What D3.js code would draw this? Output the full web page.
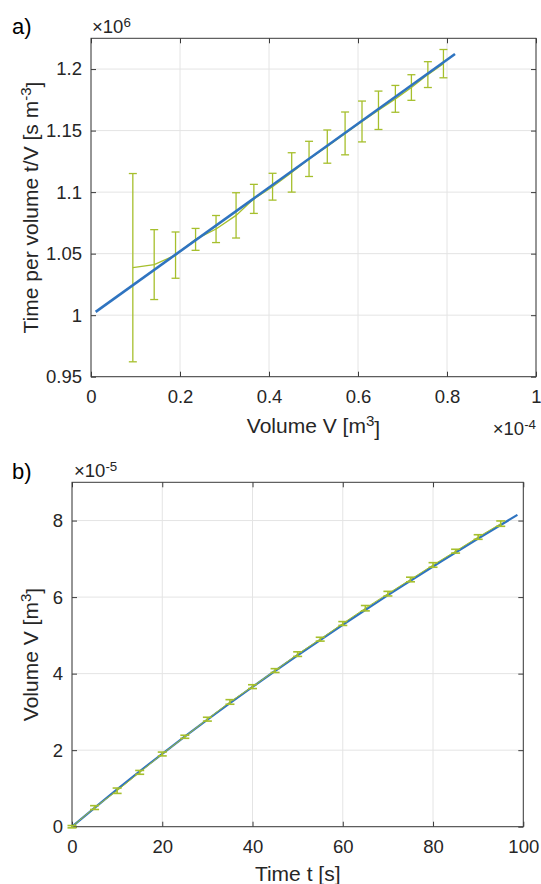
<!DOCTYPE html>
<html><head><meta charset="utf-8">
<script src="https://cdn.jsdelivr.net/npm/d3@7"></script>
<style>body{margin:0;background:#fff} text{font-family:"Liberation Sans",Arial,Helvetica,sans-serif}</style>
</head><body><svg id="c" width="541" height="884"></svg>
<script>
// ---- Panel a: t/V vs V ----
const aV   = [0.094,0.142,0.190,0.235,0.281,0.326,0.366,0.408,0.451,0.490,0.531,0.571,0.609,0.646,0.684,0.720,0.757,0.792]; // ×1e-4 m³
const aTV  = [1.0386,1.0411,1.0488,1.0616,1.0700,1.0811,1.0945,1.1044,1.1160,1.1270,1.1370,1.1477,1.1574,1.1665,1.1758,1.1850,1.1955,1.2044]; // ×1e6
const aErr = [0.0765,0.0284,0.0188,0.0089,0.0110,0.0184,0.0118,0.0109,0.0160,0.0143,0.0135,0.0174,0.0166,0.0156,0.0109,0.0104,0.0105,0.0115];
const aFitV  = [0.0105, 0.818];
const aFitTV = [1.0027, 1.2122];
const aXTicks = [0,0.2,0.4,0.6,0.8,1];
const aYTicks = [0.95,1,1.05,1.1,1.15,1.2];
const aXTickLabels = ["0","0.2","0.4","0.6","0.8","1"];
const aYTickLabels = ["0.95","1","1.05","1.1","1.15","1.2"];

// ---- Panel b: V vs t ----
const bT   = [0,5,10,15,20,25,30,35,40,45,50,55,60,65,70,75,80,85,90,95];
const bV   = [0,0.50,0.94,1.42,1.90,2.35,2.81,3.26,3.66,4.08,4.51,4.90,5.31,5.71,6.09,6.46,6.84,7.20,7.57,7.92]; // ×1e-5 m³
const bErr = [0.03,0.05,0.07,0.05,0.05,0.04,0.05,0.06,0.05,0.05,0.06,0.05,0.05,0.07,0.06,0.06,0.06,0.05,0.06,0.07];
const bFitT = [0,10,20,30,40,50,60,70,80,90,98.7];
const bFitV = [0,0.975,1.906,2.797,3.654,4.480,5.278,6.051,6.801,7.530,8.149];
const bXTicks = [0,20,40,60,80,100];
const bYTicks = [0,2,4,6,8];

const GREEN = "#a6bf2c", BLUE = "#2f74c0", AX = "#3a3a3a", TXT = "#262626", GRID = "#e4e4e4";
const FS_TICK = "18.5px", FS_LAB = "21px";
const svg = d3.select("#c");

function panel(o){
  const g = svg.append("g");
  const x = d3.scaleLinear().domain(o.xd).range([o.l,o.r]);
  const y = d3.scaleLinear().domain(o.yd).range([o.b,o.t]);
  g.append("g").selectAll("line").data(o.xt).join("line")
    .attr("x1",d=>x(d)).attr("x2",d=>x(d)).attr("y1",o.t).attr("y2",o.b)
    .attr("stroke",GRID).attr("stroke-width",1);
  g.append("g").selectAll("line").data(o.yt).join("line")
    .attr("y1",d=>y(d)).attr("y2",d=>y(d)).attr("x1",o.l).attr("x2",o.r)
    .attr("stroke",GRID).attr("stroke-width",1);
  const ax = [
    [d3.axisBottom(x).tickValues(o.xt).tickFormat((d,i)=>o.xl[i]).tickSize(-5).tickPadding(13.5), `translate(0,${o.b})`],
    [d3.axisLeft(y).tickValues(o.yt).tickFormat((d,i)=>o.yl[i]).tickSize(-5).tickPadding(9), `translate(${o.l},0)`],
    [d3.axisTop(x).tickValues(o.xt).tickFormat("").tickSize(-5), `translate(0,${o.t})`],
    [d3.axisRight(y).tickValues(o.yt).tickFormat("").tickSize(-5), `translate(${o.r},0)`]
  ];
  ax.forEach(([a,tr])=>{
    const s = g.append("g").attr("transform",tr).call(a);
    s.select(".domain").remove();
    s.selectAll("line").attr("stroke",AX);
    s.selectAll("text").attr("fill",TXT).style("font-size",FS_TICK).attr("font-family",null);
  });
  g.append("rect").attr("x",o.l).attr("y",o.t).attr("width",o.r-o.l).attr("height",o.b-o.t)
    .attr("fill","none").attr("stroke",AX).attr("stroke-width",1);
  return {g,x,y};
}

// text with a superscript part and optional trailing text
function sup(sel, base, s, tail){
  sel.append("tspan").text(base);
  sel.append("tspan").attr("dy","-0.45em").style("font-size","0.72em").text(s);
  if (tail) sel.append("tspan").attr("dy","0.45em").text(tail);
  return sel;
}

// ===== Panel a =====
{
  const o = {l:91,r:536,t:38.3,b:376.7,xd:[0,1],yd:[0.95,1.225],xt:aXTicks,yt:aYTicks,xl:aXTickLabels,yl:aYTickLabels};
  const {g,x,y} = panel(o);
  const eb = g.append("g").attr("stroke",GREEN).attr("stroke-width",1.3).attr("fill","none");
  aV.forEach((v,i)=>{
    const cx = x(v), y1 = y(aTV[i]-aErr[i]), y2 = y(aTV[i]+aErr[i]);
    eb.append("line").attr("x1",cx).attr("x2",cx).attr("y1",y1).attr("y2",y2);
    eb.append("line").attr("x1",cx-4).attr("x2",cx+4).attr("y1",y1).attr("y2",y1);
    eb.append("line").attr("x1",cx-4).attr("x2",cx+4).attr("y1",y2).attr("y2",y2);
  });
  g.append("path").datum(aV.map((v,i)=>[v,aTV[i]]))
    .attr("d",d3.line().x(d=>x(d[0])).y(d=>y(d[1])))
    .attr("fill","none").attr("stroke",GREEN).attr("stroke-width",1.3);
  g.append("path").datum(aFitV.map((v,i)=>[v,aFitTV[i]]))
    .attr("d",d3.line().x(d=>x(d[0])).y(d=>y(d[1])))
    .attr("fill","none").attr("stroke",BLUE).attr("stroke-width",2.6);

  svg.append("text").attr("x",12).attr("y",34).attr("fill","#000").style("font-size","22px").text("a)");
  sup(svg.append("text").attr("x",92).attr("y",33).attr("fill",TXT).style("font-size",FS_TICK),"×10","6");
  sup(svg.append("text").attr("x",536).attr("y",435).attr("text-anchor","end").attr("fill",TXT).style("font-size",FS_TICK),"×10","-4");
  sup(svg.append("text").attr("x",313.5).attr("y",433).attr("text-anchor","middle").attr("fill",TXT).style("font-size",FS_LAB),"Volume V [m","3","]");
  sup(svg.append("text").attr("transform","translate(38,207.5) rotate(-90)").attr("text-anchor","middle").attr("fill",TXT).style("font-size",FS_LAB),"Time per volume t/V [s m","-3","]");
}

// ===== Panel b =====
{
  const o = {l:72,r:523.3,t:482.3,b:826.7,xd:[0,100],yd:[0,9],xt:bXTicks,yt:bYTicks,xl:bXTicks.map(String),yl:bYTicks.map(String)};
  const {g,x,y} = panel(o);
  g.append("path").datum(bFitT.map((t,i)=>[t,bFitV[i]]))
    .attr("d",d3.line().curve(d3.curveNatural).x(d=>x(d[0])).y(d=>y(d[1])))
    .attr("fill","none").attr("stroke",BLUE).attr("stroke-width",2.2);
  g.append("path").datum(bT.map((t,i)=>[t,bV[i]]))
    .attr("d",d3.line().x(d=>x(d[0])).y(d=>y(d[1])))
    .attr("fill","none").attr("stroke",GREEN).attr("stroke-width",1);
  const eb = g.append("g").attr("stroke",GREEN).attr("stroke-width",1.6).attr("fill","none");
  bT.forEach((t,i)=>{
    const cx = x(t), y1 = y(bV[i]-bErr[i]), y2 = y(bV[i]+bErr[i]);
    eb.append("line").attr("x1",cx).attr("x2",cx).attr("y1",y1).attr("y2",y2);
    eb.append("line").attr("x1",cx-4.5).attr("x2",cx+4.5).attr("y1",y1).attr("y2",y1);
    eb.append("line").attr("x1",cx-4.5).attr("x2",cx+4.5).attr("y1",y2).attr("y2",y2);
  });

  svg.append("text").attr("x",12).attr("y",479).attr("fill","#000").style("font-size","22px").text("b)");
  sup(svg.append("text").attr("x",74).attr("y",477).attr("fill",TXT).style("font-size",FS_TICK),"×10","-5");
  svg.append("text").attr("x",297.7).attr("y",881).attr("text-anchor","middle").attr("fill",TXT).style("font-size",FS_LAB).text("Time t [s]");
  sup(svg.append("text").attr("transform","translate(38,654.5) rotate(-90)").attr("text-anchor","middle").attr("fill",TXT).style("font-size",FS_LAB),"Volume V [m","3","]");
}
</script></body></html>
